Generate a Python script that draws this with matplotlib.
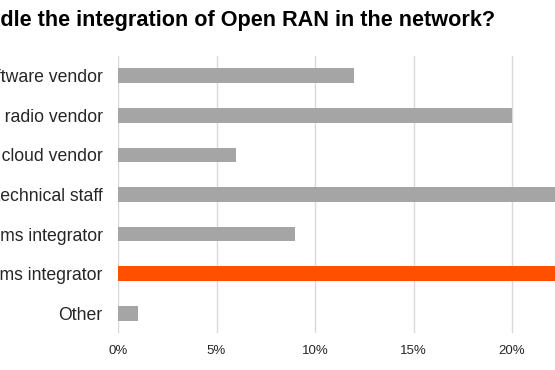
import matplotlib.pyplot as plt

plt.rcParams['font.family'] = ['Liberation Sans', 'DejaVu Sans']

categories = ["Open RAN software vendor", "Traditional radio vendor", "Public cloud vendor",
              "In-house technical staff", "Third-party systems integrator",
              "Vendor acting as systems integrator", "Other"]
values = [12, 20, 6, 25, 9, 30, 1]
colors = ['#a5a5a5', '#a5a5a5', '#a5a5a5', '#a5a5a5', '#a5a5a5', '#ff5000', '#a5a5a5']
xticks = [0, 5, 10, 15, 20]

fig = plt.figure(figsize=(5.55, 3.7), dpi=100)
ax = fig.add_axes([118/555, 37/370, 1 - 118/555, 277/370])

y = list(range(len(categories)))
ax.barh(y, values, height=0.37, color=colors, zorder=3)
ax.set_ylim(6.5, -0.5)
ax.set_xlim(0, 22.18)
ax.set_yticks(y)
ax.set_yticklabels(categories, fontsize=12.7, color='#262626')
ax.set_xticks(xticks)
ax.set_xticklabels([f"{t}%" for t in xticks], fontsize=9.5, color='#262626')
ax.tick_params(axis='y', length=0, pad=11)
ax.tick_params(axis='x', length=0, pad=9)
ax.grid(axis='x', color='#d9d9d9', linewidth=1, zorder=0)
for s in ax.spines.values():
    s.set_visible(False)

fig.text(495/555, 1 - 26/370, "Who will handle the integration of Open RAN in the network?",
         ha='right', va='baseline', fontsize=15.6, fontweight='bold', color='black')

fig.savefig('out.png', dpi=100)
